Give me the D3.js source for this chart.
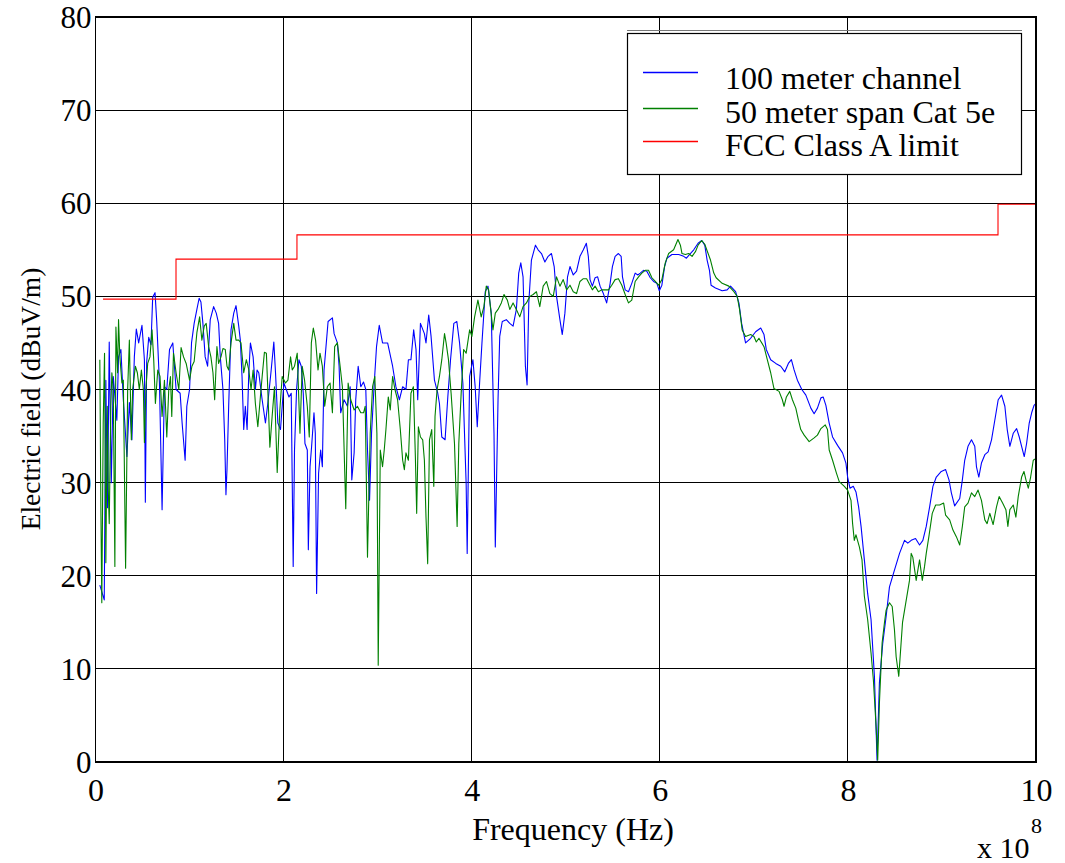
<!DOCTYPE html>
<html><head><meta charset="utf-8">
<style>
body{margin:0;background:#fff}
svg{display:block}
#chart text{font-family:'Times New Roman','Liberation Serif',Tinos,'Nimbus Roman',FreeSerif,serif !important}
</style>
<script src="https://cdn.jsdelivr.net/npm/d3@7"></script>
</head><body>
<svg id="chart" width="1065" height="863"></svg>
<script>
// ---- data (frequency in units of 1e8 Hz, level in dBuV/m) ----
const xTicks = [0, 2, 4, 6, 8, 10];
const yTicks = [0, 10, 20, 30, 40, 50, 60, 70, 80];
const seriesNames = ["100 meter channel", "50 meter span Cat 5e", "FCC Class A limit"];
const seriesColors = ["#0000ff", "#008000", "#ff0000"];

const blueFreq = [0.046,0.093,0.110,0.128,0.146,0.168,0.189,0.227,0.245,0.270,0.296,0.334,0.360,0.387,0.413,0.434,0.459,0.494,0.520,0.530,0.544,0.566,0.590,0.608,0.633,0.651,0.680,0.708,0.733,0.758,0.787,0.822,0.857,0.900,0.921,0.953,0.971,1.000,1.021,1.049,1.078,1.102,1.121,1.142,1.166,1.192,1.220,1.256,1.284,1.309,1.327,1.355,1.374,1.387,1.398,1.416,1.441,1.470,1.494,1.523,1.540,1.558,1.576,1.593,1.612,1.630,1.647,1.676,1.700,1.718,1.736,1.772,1.807,1.832,1.868,1.896,1.914,1.939,1.967,2.003,2.057,2.081,2.102,2.116,2.138,2.163,2.188,2.209,2.227,2.252,2.263,2.281,2.298,2.323,2.337,2.351,2.372,2.394,2.412,2.430,2.473,2.519,2.537,2.572,2.590,2.607,2.643,2.679,2.708,2.725,2.750,2.767,2.793,2.821,2.850,2.874,2.892,2.914,2.935,2.964,2.988,3.017,3.052,3.106,3.159,3.194,3.231,3.266,3.301,3.327,3.354,3.383,3.408,3.426,3.455,3.497,3.514,3.543,3.568,3.604,3.639,3.657,3.682,3.717,3.746,3.775,3.810,3.842,3.871,3.906,3.941,3.952,3.978,4.013,4.037,4.059,4.084,4.109,4.144,4.173,4.208,4.237,4.251,4.280,4.298,4.325,4.368,4.405,4.440,4.475,4.500,4.522,4.546,4.571,4.589,4.607,4.635,4.678,4.706,4.742,4.778,4.813,4.848,4.877,4.902,4.938,4.963,4.991,5.019,5.045,5.080,5.115,5.151,5.187,5.219,5.240,5.258,5.283,5.312,5.339,5.365,5.400,5.435,5.472,5.496,5.525,5.560,5.589,5.603,5.632,5.667,5.702,5.738,5.766,5.792,5.827,5.862,5.899,5.934,5.969,5.995,6.022,6.051,6.076,6.129,6.201,6.254,6.283,6.325,6.361,6.407,6.446,6.478,6.503,6.528,6.545,6.592,6.663,6.716,6.752,6.806,6.841,6.870,6.912,6.966,7.019,7.073,7.108,7.132,7.179,7.233,7.286,7.329,7.367,7.399,7.428,7.463,7.510,7.553,7.606,7.641,7.676,7.713,7.737,7.766,7.801,7.837,7.890,7.943,7.979,7.997,8.022,8.057,8.086,8.114,8.140,8.175,8.210,8.246,8.282,8.310,8.335,8.370,8.406,8.442,8.495,8.549,8.602,8.637,8.673,8.719,8.762,8.797,8.833,8.869,8.904,8.940,8.993,9.039,9.075,9.100,9.135,9.189,9.217,9.242,9.277,9.314,9.349,9.367,9.392,9.420,9.456,9.491,9.527,9.562,9.598,9.634,9.669,9.694,9.722,9.758,9.794,9.822,9.847,9.875,9.900,9.928,9.954,9.979,10.000];
const blueLevel = [19.0,17.4,41.0,27.3,45.1,30.0,41.4,36.7,43.5,44.3,38.9,32.8,38.6,34.6,43.5,46.5,45.0,46.9,43.2,27.9,42.9,45.6,44.8,49.9,50.4,47.3,40.7,27.1,40.3,40.0,44.3,45.0,40.0,39.6,36.4,32.4,38.2,40.0,45.0,47.1,48.6,49.8,49.4,47.1,43.5,42.5,47.5,48.9,48.2,47.1,43.5,40.0,34.6,28.7,31.4,38.2,46.4,48.2,49.0,46.8,45.3,41.4,35.7,38.2,35.7,41.8,45.0,43.5,40.0,42.1,41.8,38.9,36.4,38.5,42.1,45.1,41.8,36.4,35.7,40.7,39.2,39.6,21.0,33.5,40.0,43.2,42.5,39.6,34.2,33.5,22.8,31.7,33.9,37.5,35.3,18.1,31.0,33.5,31.7,42.1,47.3,47.7,46.0,45.0,42.5,37.5,38.9,38.2,40.3,30.3,33.2,38.9,42.5,40.3,40.8,40.0,33.5,28.1,35.3,40.7,44.6,46.9,45.0,45.0,42.5,40.3,38.9,40.3,40.0,43.2,43.2,46.4,44.3,38.9,47.1,46.0,45.0,48.0,45.7,41.0,39.6,38.5,34.9,34.6,39.2,43.2,47.1,47.3,45.0,40.7,29.9,22.4,41.4,43.2,40.3,36.0,40.7,45.0,50.5,51.1,48.2,35.3,23.1,38.9,45.7,47.3,47.5,47.1,46.8,48.6,52.5,53.6,52.1,42.5,40.5,49.3,53.9,55.5,55.0,54.6,53.7,54.3,54.6,53.2,50.0,47.5,45.9,48.2,52.1,53.2,52.3,52.7,54.3,55.0,55.7,54.3,51.8,51.1,52.0,52.1,51.1,50.3,49.3,51.4,53.2,54.3,54.6,54.3,52.1,50.7,50.5,51.4,52.5,52.3,52.5,52.8,52.7,52.0,51.6,51.4,50.6,51.2,53.2,54.1,54.5,54.5,54.3,54.1,54.6,55.0,55.7,56.0,55.5,53.9,52.8,51.2,50.9,50.6,50.7,51.1,50.5,49.3,47.1,45.0,45.5,46.2,46.6,45.9,44.3,43.2,42.8,42.5,41.9,42.8,43.2,42.1,41.0,40.0,39.4,38.0,37.4,38.0,39.1,39.2,38.3,36.4,34.9,34.0,33.2,32.1,30.6,29.4,29.6,29.0,27.4,25.3,21.7,18.1,15.3,9.2,0.2,8.5,12.7,15.6,18.8,20.6,22.4,23.8,23.5,23.8,24.0,23.3,23.8,25.3,27.4,29.6,30.6,31.2,31.4,30.3,28.9,27.5,28.3,30.3,32.4,33.9,34.6,33.9,31.7,30.6,32.1,33.0,33.3,34.6,36.7,38.9,39.4,38.2,35.7,33.9,35.3,35.8,34.9,33.9,32.8,34.2,36.4,37.5,38.3,38.5];

const greenFreq = [0.046,0.057,0.067,0.082,0.096,0.110,0.125,0.136,0.146,0.163,0.174,0.189,0.206,0.217,0.235,0.245,0.259,0.281,0.296,0.320,0.342,0.360,0.381,0.395,0.424,0.445,0.466,0.488,0.509,0.520,0.537,0.555,0.579,0.601,0.619,0.637,0.662,0.686,0.708,0.733,0.758,0.779,0.797,0.811,0.829,0.857,0.886,0.910,0.936,0.964,1.000,1.025,1.049,1.078,1.107,1.131,1.156,1.177,1.203,1.227,1.249,1.267,1.291,1.309,1.334,1.355,1.380,1.398,1.416,1.441,1.470,1.494,1.523,1.547,1.576,1.604,1.630,1.654,1.676,1.700,1.726,1.753,1.772,1.796,1.817,1.832,1.854,1.878,1.903,1.932,1.960,1.985,2.020,2.046,2.074,2.092,2.116,2.145,2.174,2.198,2.223,2.252,2.273,2.295,2.316,2.340,2.366,2.387,2.412,2.437,2.465,2.494,2.519,2.543,2.572,2.601,2.625,2.661,2.686,2.714,2.750,2.785,2.821,2.850,2.868,2.892,2.921,2.946,2.970,2.992,3.006,3.028,3.052,3.070,3.088,3.113,3.134,3.159,3.184,3.212,3.241,3.266,3.284,3.301,3.327,3.354,3.380,3.401,3.415,3.433,3.455,3.479,3.497,3.514,3.532,3.551,3.575,3.597,3.610,3.632,3.657,3.682,3.711,3.728,3.753,3.781,3.817,3.845,3.863,3.888,3.914,3.941,3.978,4.002,4.031,4.066,4.101,4.130,4.155,4.180,4.202,4.226,4.251,4.280,4.315,4.344,4.379,4.405,4.440,4.475,4.511,4.546,4.582,4.618,4.653,4.688,4.724,4.760,4.795,4.831,4.867,4.902,4.938,4.973,5.009,5.045,5.080,5.115,5.151,5.187,5.222,5.258,5.283,5.312,5.347,5.382,5.418,5.454,5.489,5.525,5.560,5.596,5.632,5.667,5.702,5.738,5.774,5.809,5.845,5.880,5.916,5.952,5.987,6.022,6.058,6.094,6.147,6.193,6.219,6.236,6.272,6.307,6.343,6.379,6.407,6.446,6.478,6.539,6.574,6.599,6.663,6.734,6.788,6.823,6.848,6.876,6.912,6.966,7.001,7.026,7.054,7.108,7.143,7.179,7.214,7.268,7.303,7.321,7.346,7.382,7.410,7.446,7.474,7.499,7.535,7.588,7.641,7.676,7.713,7.759,7.783,7.801,7.837,7.879,7.908,7.962,7.997,8.033,8.050,8.068,8.086,8.122,8.150,8.175,8.210,8.246,8.271,8.300,8.317,8.335,8.364,8.388,8.406,8.442,8.471,8.495,8.513,8.541,8.581,8.655,8.673,8.690,8.726,8.762,8.791,8.815,8.833,8.861,8.897,8.933,8.975,9.018,9.039,9.082,9.117,9.153,9.189,9.217,9.242,9.277,9.314,9.349,9.384,9.420,9.456,9.480,9.509,9.544,9.580,9.608,9.645,9.680,9.701,9.722,9.758,9.786,9.811,9.847,9.872,9.893,9.918,9.943,9.971,10.000];
const greenLevel = [43.2,27.4,17.1,36.4,43.9,21.4,38.2,29.2,25.6,38.2,41.8,40.0,21.0,46.7,41.8,47.5,43.5,40.7,41.0,20.8,40.0,45.3,34.6,40.0,42.5,41.8,40.0,42.1,40.0,34.3,40.3,42.8,43.5,46.4,43.2,38.5,42.1,41.4,37.1,41.0,34.9,40.0,41.4,37.1,43.9,41.8,40.0,44.5,43.5,42.8,41.0,42.5,43.0,46.1,47.8,45.3,46.8,47.1,44.6,43.5,41.8,38.9,44.6,42.8,43.5,44.4,44.3,42.5,42.1,45.0,47.1,45.3,45.3,45.0,41.8,43.2,42.1,40.0,42.1,38.5,36.0,39.2,41.4,44.0,43.9,40.0,33.8,37.1,40.3,31.1,37.8,41.4,40.7,41.0,43.5,42.1,42.5,43.9,35.3,42.5,41.0,38.2,34.9,45.0,46.6,45.3,42.1,43.9,42.5,38.2,40.3,40.7,37.5,44.6,45.0,42.5,40.3,27.2,40.7,38.9,37.8,38.2,37.5,37.5,38.2,22.0,35.3,40.3,41.4,35.3,10.4,33.5,31.7,33.5,35.7,39.2,37.8,41.4,40.0,38.9,35.7,32.4,31.4,33.2,32.4,39.6,40.3,32.8,26.7,36.0,34.9,34.6,32.4,26.3,21.3,34.6,35.7,29.6,37.1,40.0,41.4,43.2,46.0,45.0,43.2,39.6,34.2,25.3,34.2,39.6,44.3,43.9,46.4,45.7,47.8,49.6,47.8,48.9,51.1,50.7,48.6,46.4,48.2,48.6,49.3,50.2,49.6,48.6,49.3,48.6,47.8,48.9,49.3,50.0,50.2,50.5,48.9,51.1,51.6,50.3,50.0,52.1,51.1,51.8,50.7,51.2,50.5,50.3,51.6,51.9,51.9,51.2,50.7,51.1,50.5,50.7,50.7,50.7,51.2,51.8,51.9,51.2,50.2,49.3,49.6,51.6,52.1,52.5,52.8,52.8,52.0,51.6,51.2,51.8,53.6,54.6,55.0,56.1,55.5,54.6,54.5,54.6,54.3,54.8,55.5,56.0,55.6,53.9,52.5,52.0,51.4,51.1,50.5,50.0,48.6,46.4,45.7,45.9,45.7,45.1,45.5,44.6,43.2,41.8,40.1,39.8,38.9,38.2,39.2,39.8,38.9,38.0,36.7,35.7,35.1,34.4,34.8,35.1,35.8,36.2,35.7,33.5,32.4,31.0,30.1,29.6,29.2,28.1,25.6,23.8,24.4,23.1,21.7,17.8,15.3,11.7,8.8,3.8,0.2,6.3,12.8,14.9,16.3,17.1,16.7,14.2,11.3,9.2,15.0,19.5,22.4,22.0,19.5,21.7,19.5,21.0,22.4,24.2,26.7,27.6,27.6,27.8,26.5,26.0,24.9,24.2,23.3,25.3,27.4,27.8,28.9,28.5,29.2,28.1,26.0,25.6,26.7,25.5,27.4,28.5,27.8,27.1,25.3,27.1,27.6,26.3,28.5,30.6,31.2,30.3,29.4,30.6,32.4,32.6];

const limitFreq  = [0.08, 0.856, 2.142, 9.596, 10.0];
const limitLevel = [49.7, 54.0, 56.6, 59.9, 59.9];

// ---- chart ----
const FONT = "'Times New Roman', 'Liberation Serif', Tinos, 'Nimbus Roman', FreeSerif, serif";
const svg = d3.select("#chart").attr("font-family", "Times New Roman");
const pL = 95.5, pR = 1036, pT = 17, pB = 762;
const x = d3.scaleLinear().domain([0, 10]).range([pL, pR]);
const y = d3.scaleLinear().domain([0, 80]).range([pB, pT]);

svg.append("rect").attr("width", 1065).attr("height", 863).attr("fill", "#fff");

// grid
const grid = svg.append("g").attr("shape-rendering", "crispEdges");
grid.selectAll("line.v").data(xTicks).join("line").attr("class", "v")
  .attr("x1", d => x(d)).attr("x2", d => x(d))
  .attr("y1", pT).attr("y2", pB)
  .attr("stroke", "#000").attr("stroke-width", 1);
grid.selectAll("line.h").data(yTicks).join("line").attr("class", "h")
  .attr("x1", pL).attr("x2", pR)
  .attr("y1", d => y(d)).attr("y2", d => y(d))
  .attr("stroke", "#000").attr("stroke-width", 1);

// series
const line = d3.line().x(d => x(d[0])).y(d => y(d[1]));
const stepLine = d3.line().x(d => x(d[0])).y(d => y(d[1])).curve(d3.curveStepAfter);
const blue = blueFreq.map((f, i) => [f, blueLevel[i]]);
const green = greenFreq.map((f, i) => [f, greenLevel[i]]);
const limit = limitFreq.map((f, i) => [f, limitLevel[i]]);

svg.append("path").datum(blue).attr("d", line)
  .attr("fill", "none").attr("stroke", seriesColors[0]).attr("stroke-width", 1.1).attr("stroke-linejoin", "round");
svg.append("path").datum(green).attr("d", line)
  .attr("fill", "none").attr("stroke", seriesColors[1]).attr("stroke-width", 1.1).attr("stroke-linejoin", "round");
svg.append("path").datum(limit).attr("d", stepLine)
  .attr("fill", "none").attr("stroke", seriesColors[2]).attr("stroke-width", 1.1);

// frame
svg.append("rect").attr("x", pL).attr("y", pT)
  .attr("width", pR - pL).attr("height", pB - pT)
  .attr("fill", "none").attr("stroke", "#000").attr("stroke-width", 1.2)
  .attr("shape-rendering", "crispEdges");

// tick labels via d3 axes (text only)
const xAxis = svg.append("g").attr("transform", `translate(0,${pB})`)
  .call(d3.axisBottom(x).tickValues(xTicks).tickSize(0).tickPadding(0).tickFormat(d3.format("d")));
xAxis.attr("font-family", "Times New Roman").attr("font-size", 32);
xAxis.select(".domain").remove();
xAxis.selectAll("text").attr("font-family", "Times New Roman").style("font-family", FONT)
  .attr("font-size", 32).attr("fill", "#000").attr("dy", null).attr("y", 39);

const yAxis = svg.append("g").attr("transform", `translate(${pL},0)`)
  .call(d3.axisLeft(y).tickValues(yTicks).tickSize(0).tickPadding(0).tickFormat(d3.format("d")));
yAxis.attr("font-family", "Times New Roman").attr("font-size", 31);
yAxis.select(".domain").remove();
yAxis.selectAll("text").attr("font-family", "Times New Roman").style("font-family", FONT)
  .attr("font-size", 31).attr("fill", "#000").attr("x", -4).attr("dy", "0.34em");

// free labels
const labels = svg.append("g").attr("font-family", "Times New Roman");
function label(px, py, size, str, anchor, rot) {
  const g = labels.append("g").attr("transform", `translate(${px},${py})` + (rot ? ` rotate(${rot})` : ""));
  return g.append("text").attr("font-family", "Times New Roman").style("font-family", FONT)
    .attr("font-size", size).attr("fill", "#000").attr("text-anchor", anchor || "start").text(str);
}
label(573, 840, 32, "Frequency (Hz)", "middle");
label(40, 399, 27.5, "Electric field (dBuV/m)", "middle", -90);
label(977, 858, 30, "x 10");
label(1031, 833, 22, "8");

// legend
const lg = svg.append("g");
lg.append("line").attr("x1", 627).attr("x2", 1022).attr("y1", 30.5).attr("y2", 30.5)
  .attr("stroke", "#777").attr("stroke-width", 1);
lg.append("rect").attr("x", 627.5).attr("y", 33.5).attr("width", 394).attr("height", 141)
  .attr("fill", "#fff").attr("stroke", "#000").attr("stroke-width", 1.2);
const rowY = [72.5, 108.5, 141.5];
const baseY = [89, 122.5, 156];
seriesNames.forEach((name, i) => {
  lg.append("line").attr("x1", 643).attr("x2", 698).attr("y1", rowY[i]).attr("y2", rowY[i])
    .attr("stroke", seriesColors[i]).attr("stroke-width", 1.3);
});
svg.node().appendChild(labels.node());
seriesNames.forEach((name, i) => label(725, baseY[i], 32, name));
</script>
</body></html>
